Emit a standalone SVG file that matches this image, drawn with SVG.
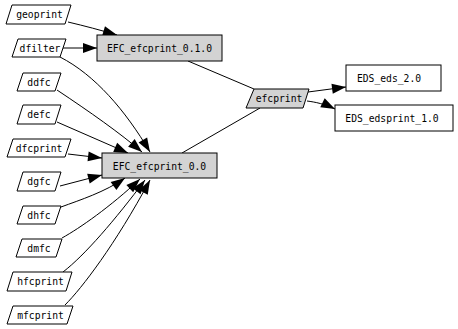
<svg xmlns="http://www.w3.org/2000/svg" width="458" height="329" viewBox="0 0 458 329">
<style>
.n{fill:#fff;stroke:#000;stroke-width:1}
.g{fill:#d3d3d3;stroke:#000;stroke-width:1}
.e{fill:none;stroke:#000;stroke-width:1}
.a{marker-end:url(#ah)}
text{font-family:"DejaVu Sans Mono","Liberation Mono",monospace;font-size:9.7px;fill:#000;text-anchor:middle}
</style>
<defs>
<marker id="ah" markerUnits="userSpaceOnUse" markerWidth="14" markerHeight="10" refX="14" refY="5" orient="auto" overflow="visible">
<path d="M0,0 L14,5 L0,10 z" fill="#000"/>
</marker>
</defs>
<rect width="458" height="329" fill="#fff"/>
<g id="edges">
<path class="e a" d="M68,22 C85,26 100,30 117,35"/>
<path class="e a" d="M62,48 L97,48"/>
<path class="e a" d="M60,57 C95,75 125,110 150,152"/>
<path class="e a" d="M57,90 C90,112 120,133 142,152"/>
<path class="e a" d="M57,122 L128,153"/>
<path class="e a" d="M68,154 L102,158"/>
<path class="e a" d="M60,186 L102,175"/>
<path class="e a" d="M61,207 C80,200 105,192 125,178"/>
<path class="e a" d="M62,238 C80,228 110,207 140,179"/>
<path class="e a" d="M63,272 C85,255 115,220 145,180"/>
<path class="e a" d="M65,305 C82,288 115,245 150,180"/>
<path class="e" d="M188,61 L254,89"/>
<path class="e" d="M182,153 L260,108"/>
<path class="e a" d="M308,92 L346,87"/>
<path class="e a" d="M307,101 C315,102 325,104 335,109"/>
</g>
<g id="geoprint"><polygon class="n" points="12,5 71,5 65,24 6,24"/><text x="39.5" y="18">geoprint</text></g>
<g id="dfilter"><polygon class="n" points="18,39 66,39 60,57 12,57"/><text x="40" y="52">dfilter</text></g>
<g id="ddfc"><polygon class="n" points="23,73 61,73 55,91 17,91"/><text x="39" y="86">ddfc</text></g>
<g id="defc"><polygon class="n" points="23,105 61,105 55,124 17,124"/><text x="39" y="118">defc</text></g>
<g id="dfcprint"><polygon class="n" points="13,139 71,139 65,157 7,157"/><text x="39" y="152">dfcprint</text></g>
<g id="dgfc"><polygon class="n" points="23,172 61,172 55,191 17,191"/><text x="39" y="185">dgfc</text></g>
<g id="dhfc"><polygon class="n" points="23,206 61,206 55,224 17,224"/><text x="39" y="219">dhfc</text></g>
<g id="dmfc"><polygon class="n" points="22,239 62,239 56,257 16,257"/><text x="39" y="252">dmfc</text></g>
<g id="hfcprint"><polygon class="n" points="13,272 72,272 66,291 7,291"/><text x="40.5" y="285">hfcprint</text></g>
<g id="mfcprint"><polygon class="n" points="13,306 73,306 67,324 7,324"/><text x="40.5" y="319">mfcprint</text></g>
<g id="EFC_efcprint_0.1.0"><rect class="g" x="97" y="35" width="125" height="26"/><text x="159.5" y="52">EFC_efcprint_0.1.0</text></g>
<g id="EFC_efcprint_0.0"><rect class="g" x="102" y="153" width="115" height="25"/><text x="159.5" y="169.5">EFC_efcprint_0.0</text></g>
<g id="efcprint"><polygon class="g" points="254,89 309,89 303,108 246,108"/><text x="279" y="102">efcprint</text></g>
<g id="EDS_eds_2.0"><rect class="n" x="346" y="65" width="95" height="26"/><text x="389" y="82">EDS_eds_2.0</text></g>
<g id="EDS_edsprint_1.0"><rect class="n" x="335" y="105" width="118" height="26"/><text x="392" y="122">EDS_edsprint_1.0</text></g>
</svg>
